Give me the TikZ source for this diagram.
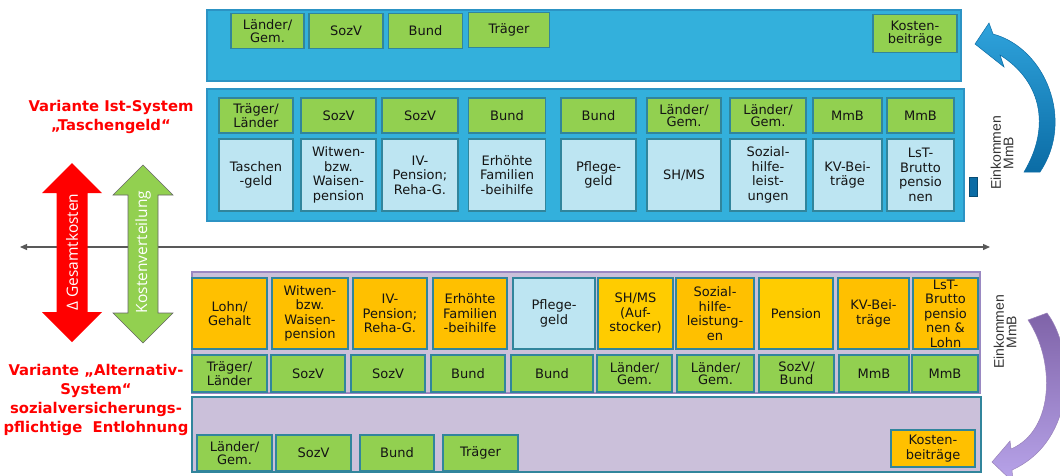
\documentclass[tikz,border=0pt]{standalone}
\usepackage{fontspec}
\setmainfont{DejaVu Sans}
\newfontfamily\labelfont{Liberation Sans}
\newfontfamily\arrowfont{Open Sans}
\usetikzlibrary{arrows.meta}

% Colours
\definecolor{panelblue}{HTML}{33B0DC}
\definecolor{panelrim}{HTML}{2C93C4}
\definecolor{boxgreen}{HTML}{92D050}
\definecolor{boxrim}{HTML}{31859C}
\definecolor{boxlight}{HTML}{BDE5F2}
\definecolor{boxorange}{HTML}{FFC000}
\definecolor{boxyellow}{HTML}{FFCC00}
\definecolor{panellav}{HTML}{CBC0DA}
\definecolor{lavrim}{HTML}{9A88C2}
\definecolor{headred}{HTML}{FF0000}
\definecolor{arrowgreen}{HTML}{92D050}
\definecolor{bluetop}{HTML}{2FA3DC}
\definecolor{bluebot}{HTML}{0B6CA5}
\definecolor{purtop}{HTML}{7F63A8}
\definecolor{purbot}{HTML}{B8A4EA}

\tikzset{
  box/.style={draw=boxrim, line width=1.1pt, align=center, inner sep=0pt,
    text=black!92, font=\fontsize{13}{14.5}\selectfont},
  gbox/.style={box, fill=boxgreen, minimum height=35,
    font=\fontsize{13}{12.5}\selectfont},
  lbox/.style={box, fill=boxlight, minimum height=72},
  obox/.style={box, fill=boxorange, minimum height=71},
  ybox/.style={box, fill=boxyellow, minimum height=71},
  bluepanel/.style={fill=panelblue, draw=panelrim, line width=1.1pt},
  lavpanel/.style={fill=panellav, draw=#1, line width=1.1pt},
  heading/.style={text=headred, align=center,
    font=\fontsize{14.8}{19}\selectfont\bfseries},
  einkommen/.style={rotate=90, align=center, text=black!80,
    font=\labelfont\fontsize{14}{12.5}\selectfont},
  arrowtext/.style={rotate=90, text=white,
    font=\arrowfont\fontsize{15.5}{15.5}\selectfont},
}

\begin{document}
\begin{tikzpicture}[x=1pt, y=-1pt]
  \useasboundingbox (0,0) rectangle (1060,475);

  % Axis across the picture
  \coordinate (axisL) at (20,247);
  \coordinate (axisR) at (990,247);
  \draw[draw=black!65, line width=1.3pt,
    {Triangle[length=7pt,width=6pt]}-{Triangle[length=7pt,width=6pt]}]
    (axisL) -- (axisR);

  % Double arrows on the left
  \fill[headred] (72,163) -- (102,193) -- (87.5,193) -- (87.5,312)
    -- (102,312) -- (72,342) -- (42,312) -- (56.5,312) -- (56.5,193)
    -- (42,193) -- cycle;
  \filldraw[fill=arrowgreen, draw=black!60, line width=0.6pt]
    (143,165) -- (173,195) -- (158,195) -- (158,313) -- (173,313)
    -- (143,343) -- (113,313) -- (128,313) -- (128,195) -- (113,195)
    -- cycle;
  \node[arrowtext] (gesamt) at (72,252) {Δ Gesamtkosten};
  \node[arrowtext] (verteil) at (143,252) {Kostenverteilung};

  % Headings
  \node[heading] (istsys) at (111,117) {Variante Ist-System\\„Taschengeld“};
  \node[heading] (altsys) at (96,400)
    {Variante „Alternativ-\\System“\\sozialversicherungs-\\pflichtige\ \ Entlohnung};

  % Ist-System: top panel
  \draw[bluepanel] (207,10) rectangle (961,81);
  \node[gbox, minimum width=73] (tLaender) at (267.5,31) {Länder/\\Gem.};
  \node[gbox, minimum width=74] (tSozV) at (346,31) {SozV};
  \node[gbox, minimum width=74] (tBund) at (425.5,31) {Bund};
  \node[gbox, minimum width=81] (tTraeger) at (509,30) {Träger};
  \node[gbox, minimum width=84, minimum height=38] (tKosten) at (915,33.5)
    {Kosten-\\beiträge};

  % Ist-System: lower panel
  \draw[bluepanel] (207,89) rectangle (964,221);
  \node[gbox, minimum width=74] (mTraeger) at (256,115.5) {Träger/\\Länder};
  \node[gbox, minimum width=75] (mSozVa) at (338.5,115.5) {SozV};
  \node[gbox, minimum width=76] (mSozVb) at (420,115.5) {SozV};
  \node[gbox, minimum width=77] (mBunda) at (507,115.5) {Bund};
  \node[gbox, minimum width=75] (mBundb) at (598.5,115.5) {Bund};
  \node[gbox, minimum width=74] (mLaendera) at (684,115.5) {Länder/\\Gem.};
  \node[gbox, minimum width=76] (mLaenderb) at (768,115.5) {Länder/\\Gem.};
  \node[gbox, minimum width=69] (mMmBa) at (847.5,115.5) {MmB};
  \node[gbox, minimum width=67] (mMmBb) at (920.5,115.5) {MmB};

  \node[lbox, minimum width=74] (mTaschen) at (256,175) {Taschen\\-geld};
  \node[lbox, minimum width=75] (mWitwen) at (338.5,175)
    {Witwen-\\bzw.\\Waisen-\\pension};
  \node[lbox, minimum width=76] (mIV) at (420,175) {IV-\\Pension;\\Reha-G.};
  \node[lbox, minimum width=77] (mFam) at (507,175)
    {Erhöhte\\Familien\\-beihilfe};
  \node[lbox, minimum width=75] (mPflege) at (598.5,175) {Pflege-\\geld};
  \node[lbox, minimum width=74] (mSHMS) at (684,175) {SH/MS};
  \node[lbox, minimum width=76] (mSozial) at (768,175)
    {Sozial-\\hilfe-\\leist-\\ungen};
  \node[lbox, minimum width=69] (mKV) at (847.5,175) {KV-Bei-\\träge};
  \node[lbox, minimum width=67] (mLsT) at (920.5,175)
    {LsT-\\Brutto\\pensio\\nen};

  % Einkommen MmB, upper side
  \filldraw[fill=bluebot, draw=bluebot!70!black, line width=0.6pt]
    (969,177) rectangle (977,196);
  \shade[top color=bluetop, bottom color=bluebot, draw=bluebot, line width=0.5pt]
    (975,44) -- (989,23) -- (993,34)
    .. controls (1045,48) and (1075,120) .. (1040,172)
    -- (1024,172)
    .. controls (1052,125) and (1040,80) .. (1000,55)
    -- (1004,67) -- cycle;
  \node[einkommen] (einkTop) at (1002,153) {Einkommen\\MmB};

  % Alternativ-System: upper panel
  \draw[lavpanel=lavrim] (192,272) rectangle (980,393);
  \node[obox, minimum width=75] (aLohn) at (229.5,313.5) {Lohn/\\Gehalt};
  \node[obox, minimum width=76] (aWitwen) at (310,313.5)
    {Witwen-\\bzw.\\Waisen-\\pension};
  \node[obox, minimum width=74] (aIV) at (390,313.5) {IV-\\Pension;\\Reha-G.};
  \node[obox, minimum width=74] (aFam) at (470,313.5)
    {Erhöhte\\Familien\\-beihilfe};
  \node[lbox, minimum width=82, minimum height=71] (aPflege) at (554,313.5)
    {Pflege-\\geld};
  \node[ybox, minimum width=75] (aSHMS) at (635.5,313.5)
    {SH/MS\\(Auf-\\stocker)};
  \node[obox, minimum width=78] (aSozial) at (715,313.5)
    {Sozial-\\hilfe-\\leistung-\\en};
  \node[ybox, minimum width=74] (aPension) at (796,313.5) {Pension};
  \node[obox, minimum width=71] (aKV) at (873.5,313.5) {KV-Bei-\\träge};
  \node[obox, minimum width=65] (aLsT) at (945.5,313.5)
    {LsT-\\Brutto\\pensio\\nen \&\\Lohn};

  \node[gbox, minimum width=75, minimum height=37] (aTraeger) at (229.5,373.5)
    {Träger/\\Länder};
  \node[gbox, minimum width=74, minimum height=37] (aSozVa) at (308,373.5) {SozV};
  \node[gbox, minimum width=74, minimum height=37] (aSozVb) at (388,373.5) {SozV};
  \node[gbox, minimum width=74, minimum height=37] (aBunda) at (468,373.5) {Bund};
  \node[gbox, minimum width=82, minimum height=37] (aBundb) at (552,373.5) {Bund};
  \node[gbox, minimum width=75, minimum height=37] (aLaendera) at (634.5,373.5)
    {Länder/\\Gem.};
  \node[gbox, minimum width=77, minimum height=37] (aLaenderb) at (715.5,373.5)
    {Länder/\\Gem.};
  \node[gbox, minimum width=75, minimum height=37] (aSozVBund) at (796.5,373.5)
    {SozV/\\Bund};
  \node[gbox, minimum width=70, minimum height=37] (aMmBa) at (874,373.5) {MmB};
  \node[gbox, minimum width=66, minimum height=37] (aMmBb) at (945,373.5) {MmB};

  % Alternativ-System: lower panel
  \draw[lavpanel=boxrim] (192,397) rectangle (981,472);
  \node[gbox, minimum width=75, minimum height=36] (bLaender) at (234.5,453)
    {Länder/\\Gem.};
  \node[gbox, minimum width=75, minimum height=36] (bSozV) at (313.5,453) {SozV};
  \node[gbox, minimum width=74, minimum height=36] (bBund) at (397,453) {Bund};
  \node[gbox, minimum width=75, minimum height=36] (bTraeger) at (480.5,453)
    {Träger};
  \node[obox, minimum width=84, minimum height=37] (bKosten) at (933,448.5)
    {Kosten-\\beiträge};

  % Einkommen MmB, lower side
  \shade[top color=purtop, bottom color=purbot, draw=purtop!80, line width=0.5pt]
    (1028,320) -- (1047,313)
    .. controls (1075,350) and (1078,440) .. (1012,470)
    -- (1013,482) -- (992,462) -- (1010,441) -- (1011,449)
    .. controls (1055,430) and (1055,360) .. (1028,320) -- cycle;
  \node[einkommen] (einkBot) at (1005,332) {Einkommen\\MmB};
\end{tikzpicture}
\end{document}
